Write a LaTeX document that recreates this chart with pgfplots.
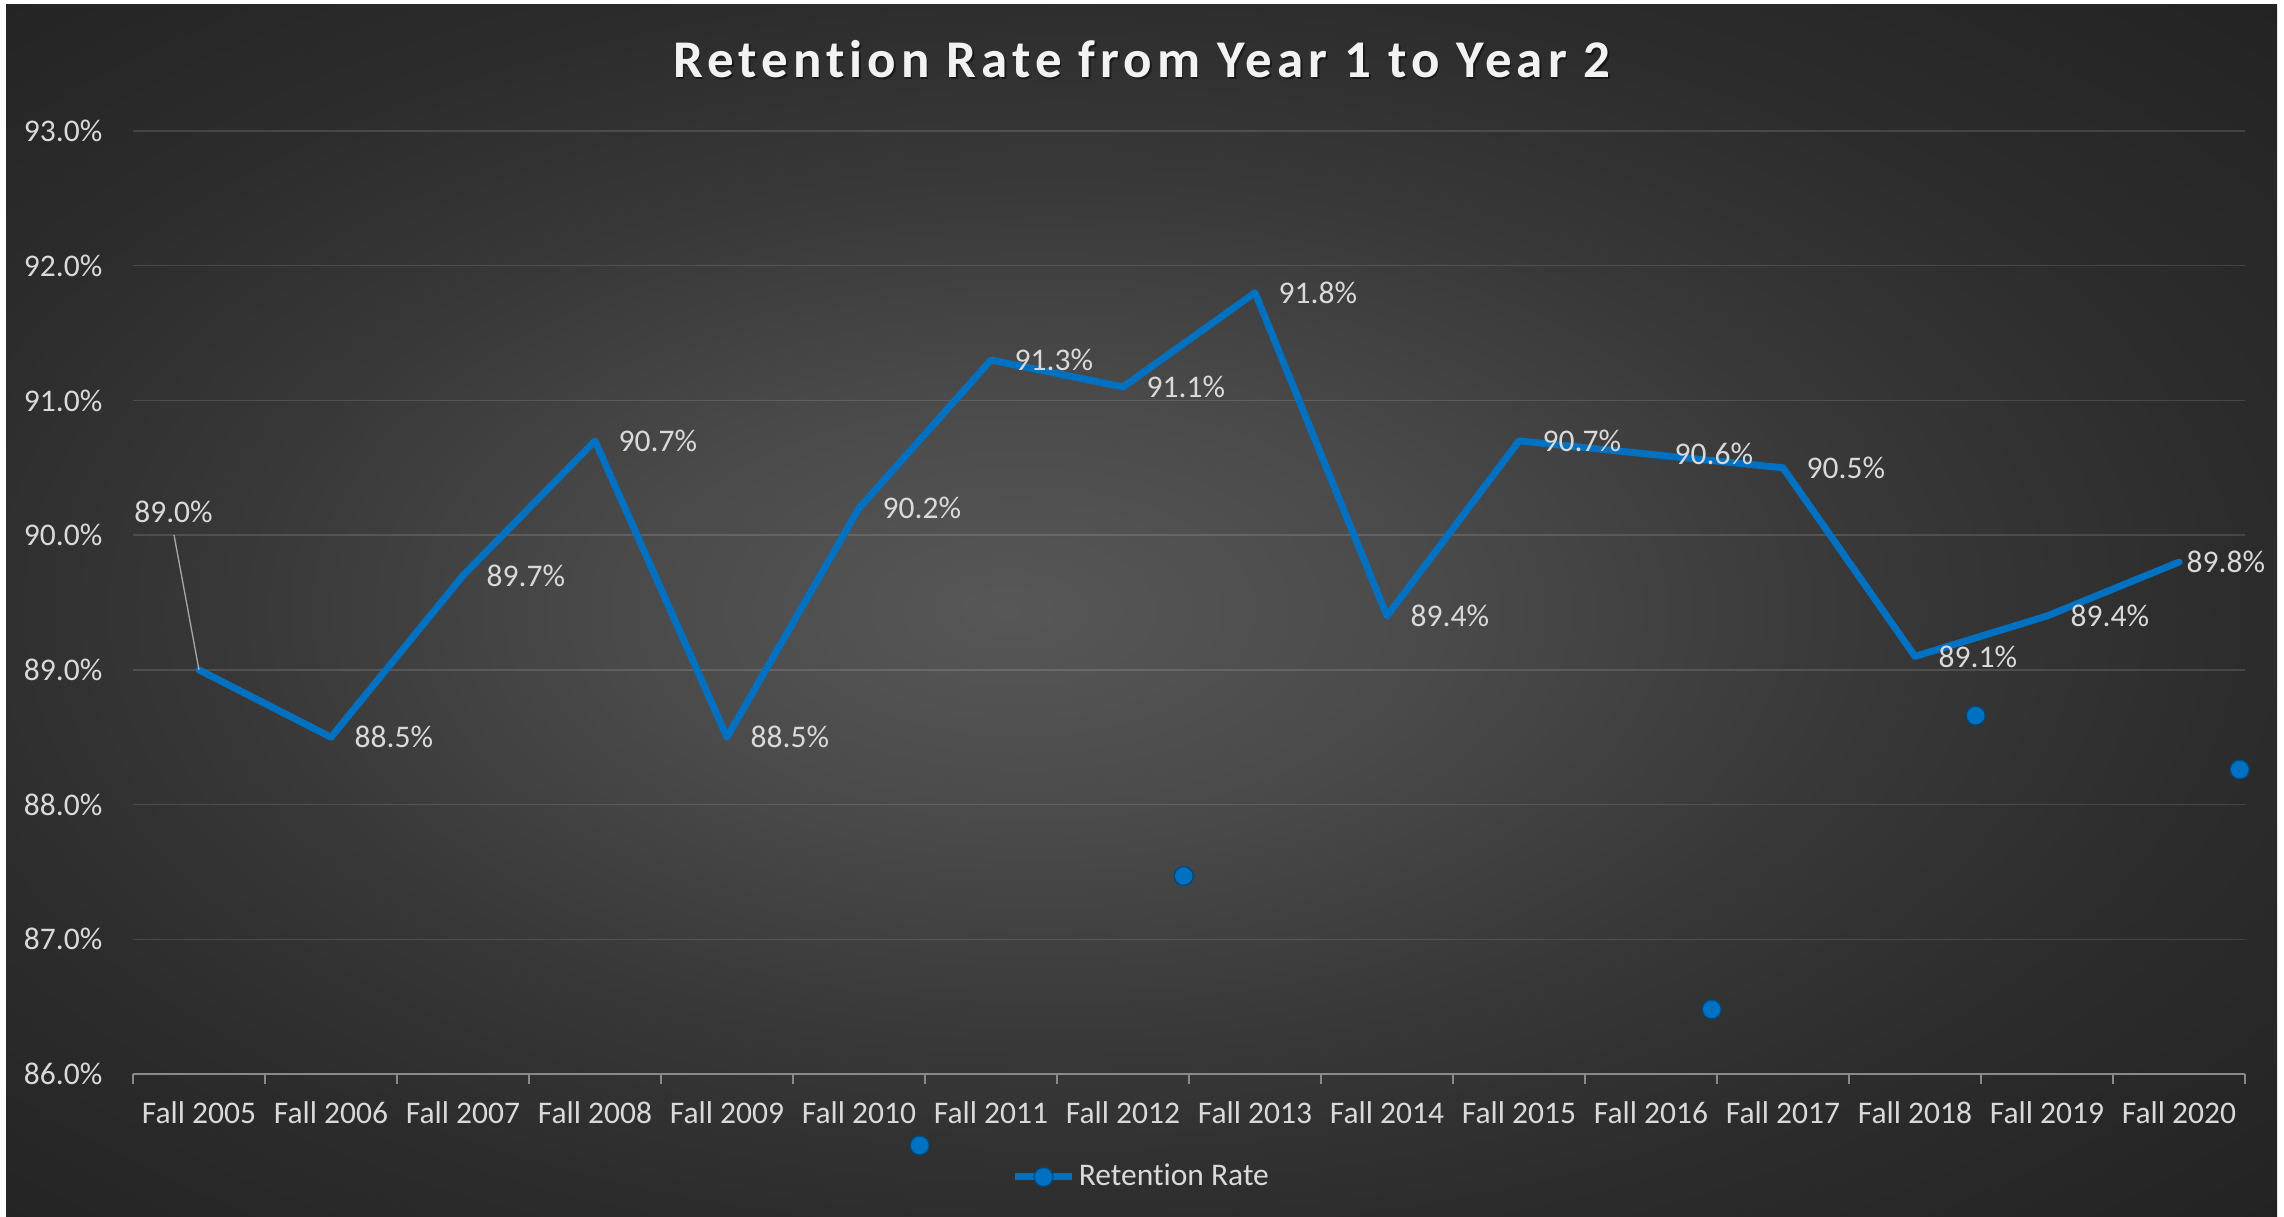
\documentclass[border=0pt]{standalone}
\usepackage{fontspec}
\setmainfont{Carlito}[Ligatures=NoCommon]
\newfontfamily\titlefont[LetterSpace=9.5,Ligatures=NoCommon]{Carlito}
\usepackage{pgfplots}
\pgfplotsset{compat=1.18}
\definecolor{xlblue}{HTML}{0070C0}
\definecolor{txt}{HTML}{D9D9D9}
\definecolor{axgray}{HTML}{8A8A8A}
\definecolor{bgA}{HTML}{575757}
\definecolor{bgB}{HTML}{4A4A4A}
\definecolor{bgC}{HTML}{383838}
\definecolor{bgD}{HTML}{2C2C2C}
\definecolor{bgE}{HTML}{232323}
\pgfdeclareradialshading{chartbg}{\pgfpoint{-3bp}{0bp}}{color(0bp)=(bgA); color(9bp)=(bgB); color(18bp)=(bgC); color(26bp)=(bgD); color(36bp)=(bgE); color(50bp)=(bgE)}
\newcommand{\tickfont}{\fontsize{9.45}{11}\selectfont}
\begin{document}
\begin{tikzpicture}[x=1pt,y=1pt]
\useasboundingbox (0,0) rectangle (685.2,364.8);
\fill[white] (0,0) rectangle (685.2,364.8);
\shade[shading=chartbg] (1.8,0) rectangle (683.1,363.3);
\node[anchor=base, text=black, opacity=0.45, font=\titlefont\bfseries\fontsize{15.9}{18}\selectfont] at (343.1,340.9) {Retention Rate from Year 1 to Year 2};
\node[anchor=base, text=white!95!black, font=\titlefont\bfseries\fontsize{15.9}{18}\selectfont] at (342.6,341.4) {Retention Rate from Year 1 to Year 2};
\begin{axis}[
  at={(39.9pt,42.6pt)}, anchor=south west,
  scale only axis, width=633.6pt, height=282.9pt,
  xmin=-0.5, xmax=15.5, ymin=86, ymax=93,
  xtick={-0.5,0.5,...,15.5},
  xticklabels={Fall 2005,Fall 2006,Fall 2007,Fall 2008,Fall 2009,Fall 2010,Fall 2011,Fall 2012,Fall 2013,Fall 2014,Fall 2015,Fall 2016,Fall 2017,Fall 2018,Fall 2019,Fall 2020},
  x tick label as interval,
  ytick={86,87,88,89,90,91,92,93},
  yticklabels={86.0\%,87.0\%,88.0\%,89.0\%,90.0\%,91.0\%,92.0\%,93.0\%},
  axis lines*=left,
  y axis line style={draw=none},
  x axis line style={draw=axgray, line width=0.8pt},
  tick align=outside,
  major tick length=3pt,
  xtick style={draw=axgray, line width=0.8pt},
  ytick style={draw=none},
  ymajorgrids,
  grid style={draw=white, draw opacity=0.13, line width=0.45pt},
  tick label style={font=\tickfont, text=txt},
  xticklabel style={inner sep=0pt, anchor=north, yshift=-5pt},
  yticklabel style={inner sep=0pt, anchor=east, xshift=-6pt},
  clip=false,
  legend style={at={(0.4777,-0.1092)}, anchor=center, draw=none, fill=none,
    text=txt, font=\tickfont, inner sep=0pt, nodes={inner sep=1pt}},
  legend cell align=left,
]
\addlegendimage{xlblue, line width=2.1pt, mark=*, mark size=2.85pt,
  mark options={fill=xlblue, draw=xlblue!65!black, line width=0.4pt}}
\addlegendentry{Retention Rate}
\addplot[xlblue, line width=2.1pt, line join=round, line cap=round, forget plot]
  coordinates {(0,89.0)(1,88.5)(2,89.7)(3,90.7)(4,88.5)(5,90.2)(6,91.3)(7,91.1)
               (8,91.8)(9,89.4)(10,90.7)(11,90.6)(12,90.5)(13,89.1)(14,89.4)(15,89.8)};
\addplot[only marks, mark=*, mark size=2.85pt,
  mark options={fill=xlblue, draw=xlblue!65!black, line width=0.4pt}, forget plot]
  coordinates {(5.46,85.47)(7.46,87.47)(11.46,86.48)(13.46,88.66)(15.46,88.26)};
% data labels, right of points
\addplot[draw=none, forget plot, point meta=explicit symbolic,
  nodes near coords={\pgfplotspointmeta\%},
  nodes near coords style={anchor=west, inner sep=0pt, xshift=6.9pt, text=txt, font=\tickfont}]
  coordinates {(1,88.5)[88.5] (2,89.7)[89.7] (3,90.7)[90.7] (4,88.5)[88.5] (5,90.2)[90.2]
               (6,91.3)[91.3] (7,91.1)[91.1] (8,91.8)[91.8] (9,89.4)[89.4] (10,90.7)[90.7]
               (11,90.6)[90.6] (12,90.5)[90.5] (13,89.1)[89.1] (14,89.4)[89.4]};
\addplot[draw=none, forget plot, point meta=explicit symbolic,
  nodes near coords={\pgfplotspointmeta\%},
  nodes near coords style={anchor=west, inner sep=0pt, xshift=2.1pt, text=txt, font=\tickfont}]
  coordinates {(15,89.8)[89.8]};
\addplot[draw=none, forget plot, point meta=explicit symbolic,
  nodes near coords={\pgfplotspointmeta\%},
  nodes near coords style={anchor=center, inner sep=0pt, xshift=-7.65pt, yshift=47.4pt, text=txt, font=\tickfont}]
  coordinates {(0,89.0)[89.0]};
\draw[gray!70!white, line width=0.4pt] (axis cs:0,89) -- ++(-7.5pt,40.5pt);
\end{axis}
\end{tikzpicture}
\end{document}
